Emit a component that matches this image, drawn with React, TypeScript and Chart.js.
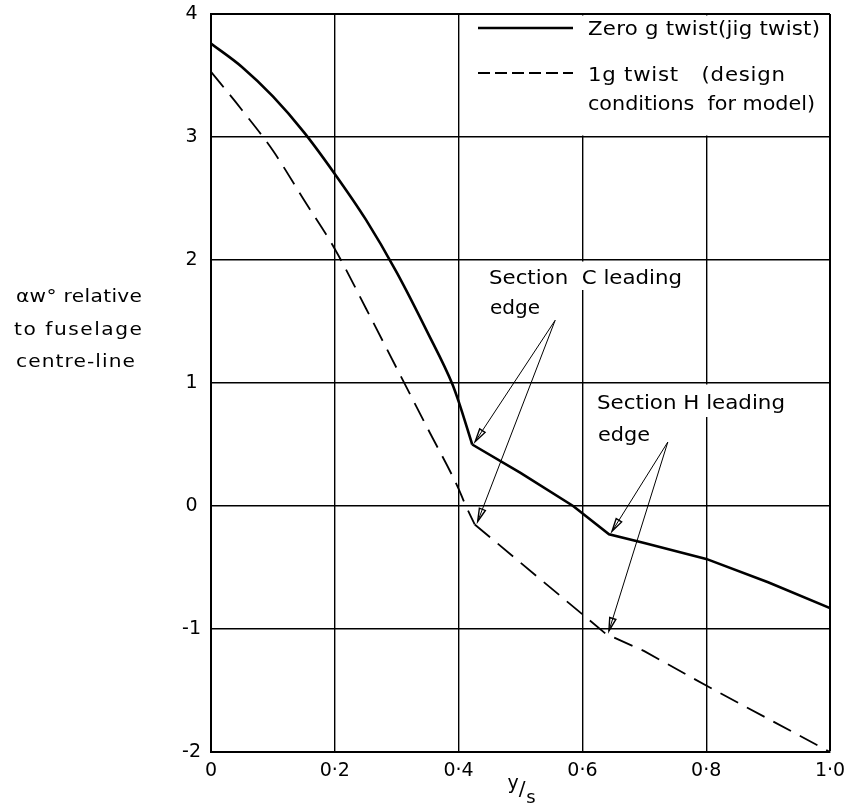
import { useEffect, useRef } from "react";
import { Chart, registerables } from "chart.js";

Chart.register(...registerables);

// ---- data ----
const xTicks = [0, 0.2, 0.4, 0.6, 0.8, 1.0];
const xTickLabels = ["0", "0·2", "0·4", "0·6", "0·8", "1·0"];
const yTicks = [-2, -1, 0, 1, 2, 3, 4];
const yTickLabels = ["-2", "-1", "0", "1", "2", "3", "4"];

// Zero g twist (jig twist) – solid
const zeroGX = [0, 0.05, 0.1, 0.15, 0.2, 0.25, 0.3, 0.35, 0.39, 0.4, 0.422, 0.5, 0.585, 0.643, 0.7, 0.8, 0.9, 1.0];
const zeroGY = [3.76, 3.57, 3.33, 3.04, 2.7, 2.33, 1.9, 1.41, 0.99, 0.85, 0.5, 0.27, 0.0, -0.23, -0.3, -0.43, -0.62, -0.83];

// 1g twist (design conditions for model) – dashed
const oneGX = [0, 0.05, 0.1, 0.15, 0.2, 0.25, 0.3, 0.35, 0.4, 0.41, 0.426, 0.638, 0.7, 0.8, 0.9, 1.0];
const oneGY = [3.53, 3.22, 2.89, 2.49, 2.09, 1.61, 1.12, 0.63, 0.14, 0.02, -0.15, -1.04, -1.18, -1.46, -1.73, -2.0];

const seriesLabels = ["Zero g twist(jig twist)", "1g twist (design conditions for model)"];
const legendLines = [["Zero g twist(jig twist)"], ["1g twist   (design", "conditions  for model)"]];
const yTitleLines = ["αw° relative", "to fuselage", "centre-line"];
const sectionCLines = ["Section  C leading", "edge"];
const sectionHLines = ["Section H leading", "edge"];
const xTitleParts = ["y", "/", "s"];

// indices of the leading-edge kinks (curved part ends at section C)
const kinkC = [zeroGX.indexOf(0.422), oneGX.indexOf(0.426)];
const kinkH = [zeroGX.indexOf(0.643), oneGX.indexOf(0.638)];

const FONT = '"DejaVu Sans", sans-serif';

// draws text starting at x, vertically centred at y, stretched to width w
function fitText(ctx: CanvasRenderingContext2D, text: string, x: number, y: number, w: number, size: number) {
  const anyCtx = ctx as any;
  const hasLS = "letterSpacing" in anyCtx;
  ctx.font = `${size}px ${FONT}`;
  if (hasLS) anyCtx.letterSpacing = "0px";
  const w0 = ctx.measureText(text).width;
  const n = Array.from(text).length;
  ctx.textAlign = "left";
  ctx.textBaseline = "middle";
  let sx = Math.max(1, Math.min(1.12, w / w0));
  if (!hasLS) sx = w / w0;
  ctx.save();
  ctx.translate(x, y);
  ctx.scale(sx, 1);
  if (hasLS && n > 1) {
    const ls = (w - w0 * sx) / (n - 1) / sx;
    anyCtx.letterSpacing = `${ls}px`;
  }
  ctx.fillText(text, 0, 0);
  if (hasLS) anyCtx.letterSpacing = "0px";
  ctx.restore();
}

function arrow(ctx: CanvasRenderingContext2D, x0: number, y0: number, x1: number, y1: number) {
  const ang = Math.atan2(y1 - y0, x1 - x0);
  const len = 13;
  const hw = 3.2;
  ctx.beginPath();
  ctx.moveTo(x0, y0);
  ctx.lineTo(x1, y1);
  ctx.lineWidth = 1;
  ctx.stroke();
  const bx = x1 - Math.cos(ang) * len;
  const by = y1 - Math.sin(ang) * len;
  const px = -Math.sin(ang) * hw;
  const py = Math.cos(ang) * hw;
  ctx.beginPath();
  ctx.moveTo(x1, y1);
  ctx.lineTo(bx + px, by + py);
  ctx.lineTo(bx - px, by - py);
  ctx.closePath();
  ctx.lineWidth = 1.4;
  ctx.stroke();
}

const decorPlugin = {
  id: "decor",
  beforeDatasetsDraw(chart: any) {
    const ctx: CanvasRenderingContext2D = chart.ctx;
    const a = chart.chartArea;
    const ys = chart.scales.y;
    const y3 = ys.getPixelForValue(3);
    const y2 = ys.getPixelForValue(2);
    const y1 = ys.getPixelForValue(1);
    ctx.save();
    ctx.fillStyle = "#fff";
    // legend panel (covers grid in top-right block, keeps borders)
    ctx.fillRect(470, a.top + 1.5, a.right - 1.5 - 470, y3 - 1.5 - (a.top + 1.5));
    // text backgrounds that interrupt the grid
    ctx.fillRect(486, y2 + 1.5, 200, 290 - (y2 + 1.5));
    ctx.fillRect(594, y1 + 1.5, 196, 417 - (y1 + 1.5));
    ctx.restore();
  },
  afterDatasetsDraw(chart: any) {
    const ctx: CanvasRenderingContext2D = chart.ctx;
    const xs = chart.scales.x;
    const ys = chart.scales.y;
    ctx.save();
    ctx.strokeStyle = "#000";
    ctx.fillStyle = "#000";

    // legend samples
    ctx.lineWidth = 2.4;
    ctx.setLineDash([]);
    ctx.beginPath();
    ctx.moveTo(478, 28);
    ctx.lineTo(573, 28);
    ctx.stroke();
    ctx.lineWidth = 1.8;
    ctx.setLineDash([12, 5]);
    ctx.beginPath();
    ctx.moveTo(478, 73);
    ctx.lineTo(573, 73);
    ctx.stroke();
    ctx.setLineDash([]);

    // legend text
    fitText(ctx, legendLines[0][0], 588, 30, 232, 19);
    fitText(ctx, legendLines[1][0], 588, 76, 197, 19);
    fitText(ctx, legendLines[1][1], 588, 105, 227, 19);

    // y-axis title
    fitText(ctx, yTitleLines[0], 16, 297, 126, 18);
    fitText(ctx, yTitleLines[1], 14, 330, 128, 18);
    fitText(ctx, yTitleLines[2], 16, 362, 119, 18);

    // section annotations
    fitText(ctx, sectionCLines[0], 489, 279, 193, 20);
    fitText(ctx, sectionCLines[1], 490, 309, 50, 20);
    fitText(ctx, sectionHLines[0], 597, 404, 188, 20);
    fitText(ctx, sectionHLines[1], 598, 436, 52, 20);

    // arrows
    const solid = zeroGX.map((x, i) => ({ x, y: zeroGY[i] }));
    const dashed = oneGX.map((x, i) => ({ x, y: oneGY[i] }));
    const pt = (d: any) => [xs.getPixelForValue(d.x) + 3, ys.getPixelForValue(d.y) - 3];
    const oC = [xs.getPixelForValue(0.556), ys.getPixelForValue(1.51)];
    const oH = [xs.getPixelForValue(0.738), ys.getPixelForValue(0.52)];
    const c0 = pt(solid[kinkC[0]]);
    const c1 = pt(dashed[kinkC[1]]);
    const h0 = pt(solid[kinkH[0]]);
    const h1 = pt(dashed[kinkH[1]]);
    arrow(ctx, oC[0], oC[1], c0[0], c0[1]);
    arrow(ctx, oC[0], oC[1], c1[0], c1[1]);
    arrow(ctx, oH[0], oH[1], h0[0], h0[1]);
    arrow(ctx, oH[0], oH[1], h1[0], h1[1]);

    // x-axis title y/s
    ctx.textAlign = "center";
    ctx.textBaseline = "middle";
    ctx.font = `19px ${FONT}`;
    ctx.fillText(xTitleParts[0], 513, 784);
    ctx.font = `20px ${FONT}`;
    ctx.fillText(xTitleParts[1], 522, 790);
    ctx.font = `18px ${FONT}`;
    ctx.fillText(xTitleParts[2], 531, 798);

    ctx.restore();
  },
};

function segment(xs: number[], ys: number[], from: number, to: number) {
  const out: { x: number; y: number }[] = [];
  for (let i = from; i <= to; i++) out.push({ x: xs[i], y: ys[i] });
  return out;
}

export default function App() {
  const ref = useRef<HTMLCanvasElement | null>(null);

  useEffect(() => {
    if (!ref.current) return;
    const solidStyle = { borderColor: "#000", borderWidth: 2.6, pointRadius: 0, fill: false };
    const dashStyle = { borderColor: "#000", borderWidth: 1.8, borderDash: [20, 10], pointRadius: 0, fill: false };
    const chart = new Chart(ref.current, {
      type: "line",
      data: {
        datasets: [
          {
            label: seriesLabels[0],
            data: segment(zeroGX, zeroGY, 0, kinkC[0]),
            cubicInterpolationMode: "monotone",
            ...solidStyle,
          },
          {
            label: seriesLabels[0],
            data: segment(zeroGX, zeroGY, kinkC[0], zeroGX.length - 1),
            tension: 0,
            ...solidStyle,
          },
          {
            label: seriesLabels[1],
            data: segment(oneGX, oneGY, 0, kinkC[1]),
            cubicInterpolationMode: "monotone",
            ...dashStyle,
          },
          {
            label: seriesLabels[1],
            data: segment(oneGX, oneGY, kinkC[1], oneGX.length - 1),
            tension: 0,
            ...dashStyle,
          },
        ],
      },
      options: {
        animation: false,
        responsive: false,
        layout: { padding: { left: 0, right: 32, top: 14, bottom: 0 } },
        plugins: {
          legend: { display: false },
          tooltip: { enabled: false },
          title: { display: false },
        },
        scales: {
          x: {
            type: "linear",
            min: 0,
            max: 1,
            afterBuildTicks: (s: any) => {
              s.ticks = xTicks.map((v) => ({ value: v }));
            },
            afterFit: (s: any) => {
              s.height = 55;
            },
            ticks: {
              color: "#000",
              font: { family: FONT, size: 19 },
              padding: 8,
              maxRotation: 0,
              autoSkip: false,
              callback: (v: any) => {
                const i = xTicks.findIndex((t) => Math.abs(t - Number(v)) < 1e-6);
                return i >= 0 ? xTickLabels[i] : "";
              },
            },
            grid: {
              color: "#000",
              lineWidth: (c: any) => (c.index === xTicks.length - 1 ? 2 : 1.4),
              drawTicks: false,
            },
            border: { display: true, color: "#000", width: 2 },
          },
          y: {
            type: "linear",
            min: -2,
            max: 4,
            afterBuildTicks: (s: any) => {
              s.ticks = yTicks.map((v) => ({ value: v }));
            },
            afterFit: (s: any) => {
              s.width = 211;
            },
            ticks: {
              color: "#000",
              font: { family: FONT, size: 19, lineHeight: 0.4 },
              padding: 10,
              crossAlign: "center",
              autoSkip: false,
              callback: (v: any) => {
                const i = yTicks.findIndex((t) => Math.abs(t - Number(v)) < 1e-6);
                return i >= 0 ? yTickLabels[i] : "";
              },
            },
            grid: {
              color: "#000",
              lineWidth: (c: any) => (c.index === yTicks.length - 1 ? 2 : 1.4),
              drawTicks: false,
            },
            border: { display: true, color: "#000", width: 2 },
          },
        },
      } as any,
      plugins: [decorPlugin],
    });
    return () => chart.destroy();
  }, []);

  return (
    <div style={{ position: "fixed", left: 0, top: 0, width: 862, height: 807, background: "#fff" }}>
      <canvas ref={ref} width={862} height={807} style={{ display: "block" }} />
    </div>
  );
}
